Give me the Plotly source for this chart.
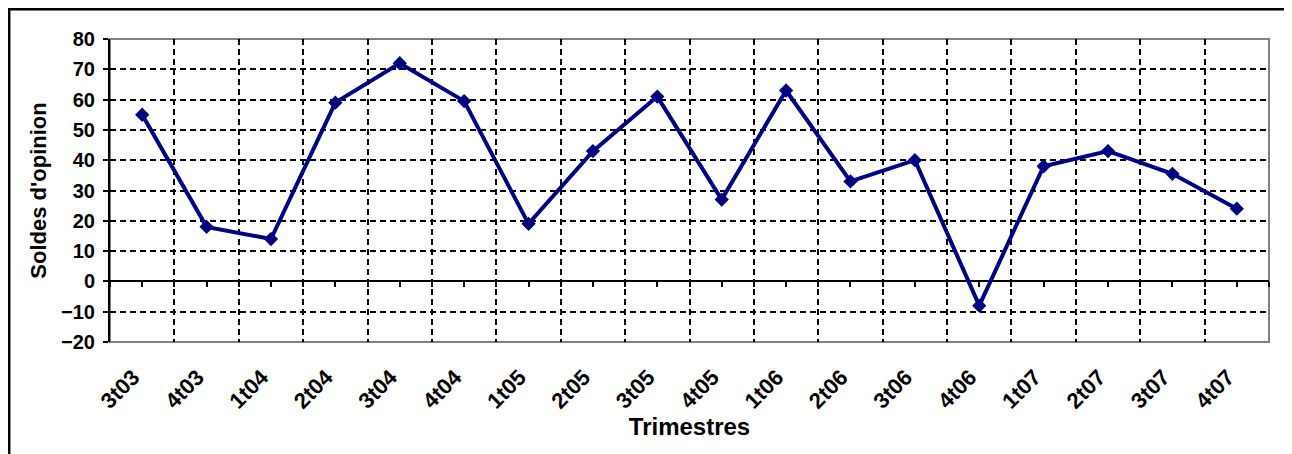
import plotly.graph_objects as go

# ---- data ----
categories = ["3t03", "4t03", "1t04", "2t04", "3t04", "4t04", "1t05", "2t05", "3t05",
              "4t05", "1t06", "2t06", "3t06", "4t06", "1t07", "2t07", "3t07", "4t07"]
soldes = [55, 18, 14, 59, 72, 59.5, 19, 43, 61, 27, 63, 33, 40, -8, 38, 43, 35.5, 24]
y_ticks = [-20, -10, 0, 10, 20, 30, 40, 50, 60, 70, 80]
x_title = "Trimestres"
y_title = "Soldes d'opinion"

FONT = "Liberation Sans, Arial, sans-serif"
NAVY = "#000080"
# the page body has an 8px margin, so the figure is drawn 8px in from the window corner
OFF = 8
W, H = 1292 - OFF, 454 - OFF
PL, PR, PT, PB = 110, 1269, 39, 342          # target plot-area box in window pixels
ML, MT = PL - OFF, PT - OFF
MR, MB = (W + OFF) - PR, (H + OFF) - PB
PW, PH = PR - PL, PB - PT

ymin, ymax = y_ticks[0], y_ticks[-1]
zero_pos = (0 - ymin) / (ymax - ymin)
n = len(categories)

fig = go.Figure()
fig.add_trace(go.Scatter(
    x=categories, y=soldes, mode="lines+markers",
    line=dict(color=NAVY, width=4),
    marker=dict(symbol="diamond", size=11, color=NAVY),
    showlegend=False, hoverinfo="x+y",
))
# empty trace so the zero-line tick axis (x2) is created
fig.add_trace(go.Scatter(x=[], y=[], xaxis="x2", yaxis="y",
                         showlegend=False, hoverinfo="skip"))

grid = dict(showgrid=True, gridcolor="black", gridwidth=2, griddash="6px,4px")

fig.update_layout(
    width=W, height=H,
    margin=dict(l=ML, r=MR, t=MT, b=MB, pad=0),
    paper_bgcolor="white", plot_bgcolor="white",
    font=dict(family=FONT, color="black"),
    xaxis=dict(
        type="category", categoryorder="array", categoryarray=categories,
        range=[-0.5, n - 0.5], tickson="boundaries",
        ticks="", showline=False, zeroline=False,
        tickangle=-45, ticklabelstandoff=17, ticklabelshift=-9,
        tickfont=dict(family=FONT, size=22, weight="bold", color="black"),
        title=dict(text=x_title, standoff=4,
                   font=dict(family=FONT, size=24, weight="bold", color="black")),
        **grid,
    ),
    xaxis2=dict(
        overlaying="x", anchor="free", position=zero_pos, side="bottom",
        type="linear", range=[-0.5, n - 0.5], tickmode="linear", tick0=-0.5, dtick=0.5,
        ticks="outside", ticklen=5, tickwidth=2, tickcolor="black",
        showticklabels=False, showgrid=False, zeroline=False, showline=False,
    ),
    yaxis=dict(
        range=[ymin, ymax], tickmode="array", tickvals=y_ticks,
        ticks="outside", ticklen=5, tickwidth=2, tickcolor="black",
        showline=True, linecolor="black", linewidth=2,
        zeroline=True, zerolinecolor="black", zerolinewidth=2,
        ticklabelstandoff=4,
        tickfont=dict(family=FONT, size=20, weight="bold", color="black"),
        title=dict(text=y_title, standoff=8,
                   font=dict(family=FONT, size=22, weight="bold", color="black")),
        **grid,
    ),
    shapes=[
        # gray plot-area frame
        dict(type="rect", xref="paper", yref="paper", x0=0, x1=1, y0=0, y1=1,
             line=dict(color="#808080", width=2), layer="below"),
        # outer chart border (runs past the right/bottom edge of the window)
        dict(type="rect", xref="paper", yref="paper",
             x0=(9.2 - PL) / PW, x1=(1300 - PL) / PW,
             y0=-(470 - PB) / PH, y1=(PB - 9.2) / PH,
             line=dict(color="black", width=2.5), layer="above"),
    ],
)

fig.write_html("out.html")
